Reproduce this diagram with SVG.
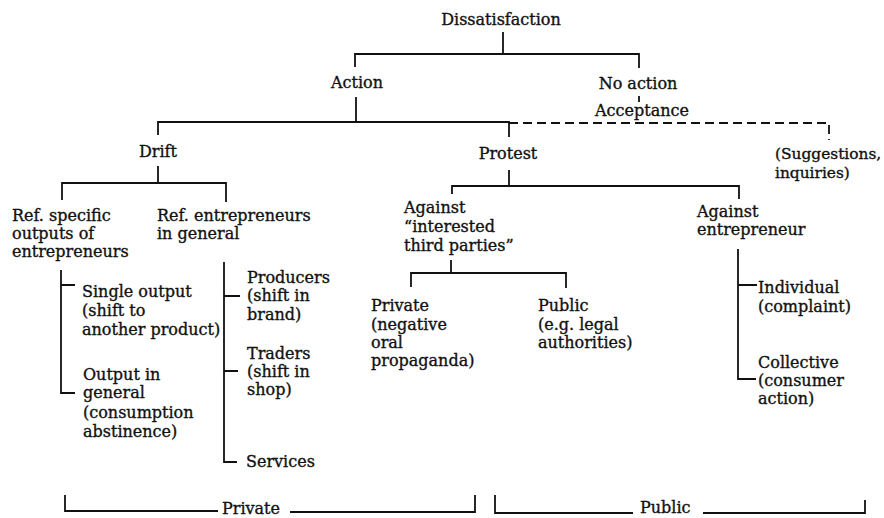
<svg xmlns="http://www.w3.org/2000/svg" width="884" height="518" viewBox="0 0 884 518">
<style>
  text { font-family: "DejaVu Serif", "Liberation Serif", serif; font-size: 16px; fill: #111; stroke: #111; stroke-width: 0.35; }
  .c { text-anchor: middle; }
  .sm { font-size: 15.4px; }
  .ln { fill: none; stroke: #111; stroke-width: 1.8; }
  .dash { fill: none; stroke: #111; stroke-width: 1.8; stroke-dasharray: 9 5; }
</style>
<rect width="884" height="518" fill="#fff"/>
<g id="connectors">
  <path class="ln" d="M503 32 V54 M355 67 V54 H639 V68"/>
  <path class="ln" d="M639 96 V102"/>
  <path class="ln" d="M356 97 V122 M158 135 V122 H509 V137"/>
  <path class="dash" d="M509 123 H829 V140"/>
  <path class="ln" d="M158 166 V183 M62 200 V183 H226 V202"/>
  <path class="ln" d="M509 170 V186 M452 194 V186 H739 V199"/>
  <path class="ln" d="M451 260 V273 M411 287 V273 H566 V288"/>
  <path class="ln" d="M738 249 V379 H756 M738 285 H757"/>
  <path class="ln" d="M61 270 V393 H75 M61 285 H75"/>
  <path class="ln" d="M224 262 V462 H237 M224 296 H240 M224 371 H238"/>
  <path class="ln" d="M65 495 V511 H218 M290 512 H475 V495"/>
  <path class="ln" d="M495 495 V513 H633 M703 513 H865 V500"/>
</g>
<g id="dissatisfaction"><text class="c" x="501" y="25">Dissatisfaction</text></g>
<g id="action"><text class="c" x="357" y="88">Action</text></g>
<g id="no-action"><text class="c" x="638" y="89">No action</text></g>
<g id="acceptance"><text class="c" x="642" y="116">Acceptance</text></g>
<g id="drift"><text class="c" x="158" y="157">Drift</text></g>
<g id="protest"><text class="c" x="508" y="159">Protest</text></g>
<g id="suggestions"><text class="sm" x="775" y="159">(Suggestions,</text><text class="sm" x="775" y="178">inquiries)</text></g>
<g id="ref-specific"><text x="12" y="221">Ref. specific</text><text x="12" y="239">outputs of</text><text x="12" y="257">entrepreneurs</text></g>
<g id="ref-general"><text x="157" y="221">Ref. entrepreneurs</text><text x="157" y="239">in general</text></g>
<g id="single-output"><text x="82" y="297">Single output</text><text x="82" y="316">(shift to</text><text x="82" y="335">another product)</text></g>
<g id="output-general"><text x="83" y="380">Output in</text><text x="83" y="398">general</text><text x="83" y="418">(consumption</text><text x="83" y="437">abstinence)</text></g>
<g id="producers"><text x="247" y="283">Producers</text><text x="247" y="301">(shift in</text><text x="247" y="320">brand)</text></g>
<g id="traders"><text x="247" y="359">Traders</text><text x="247" y="377">(shift in</text><text x="247" y="395">shop)</text></g>
<g id="services"><text x="246" y="467">Services</text></g>
<g id="against-third"><text x="404" y="213">Against</text><text x="404" y="232">“interested</text><text x="404" y="251">third parties”</text></g>
<g id="private-neg"><text x="371" y="311">Private</text><text x="371" y="330">(negative</text><text x="371" y="348">oral</text><text x="371" y="366">propaganda)</text></g>
<g id="public-legal"><text x="538" y="311">Public</text><text x="538" y="330">(e.g. legal</text><text x="538" y="348">authorities)</text></g>
<g id="against-entrepreneur"><text x="697" y="217">Against</text><text x="697" y="235">entrepreneur</text></g>
<g id="individual"><text x="758" y="293">Individual</text><text x="758" y="312">(complaint)</text></g>
<g id="collective"><text x="758" y="368">Collective</text><text x="758" y="386">(consumer</text><text x="758" y="404">action)</text></g>
<g id="private-bracket"><text x="222" y="514">Private</text></g>
<g id="public-bracket"><text x="640" y="513">Public</text></g>
</svg>
